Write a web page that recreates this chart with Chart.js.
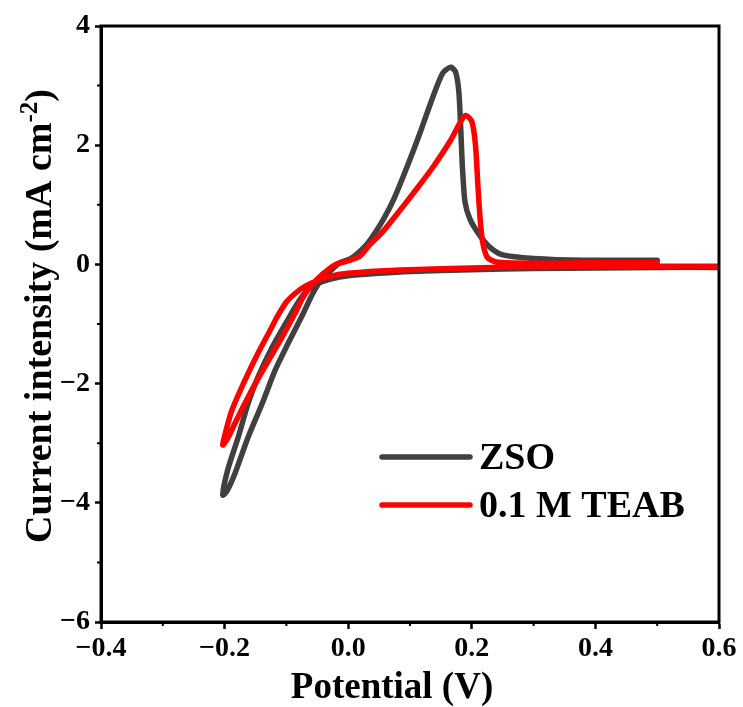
<!DOCTYPE html>
<html>
<head>
<meta charset="utf-8">
<script src="https://cdn.jsdelivr.net/npm/chart.js@4.4.0/dist/chart.umd.min.js"></script>
<style>
  body { margin: 0; background: #fff; }
</style>
</head>
<body>
<canvas id="chart" width="743" height="707"></canvas>
<script>
// CV loops, potential (V) vs current (mA cm-2)
const zsoPotential = [0.6, 0.5, 0.4, 0.3, 0.2, 0.1, 0.05, 0.0, -0.03, -0.05, -0.065, -0.08, -0.1, -0.123, -0.146, -0.162, -0.178, -0.195, -0.203,
  -0.196, -0.183, -0.162, -0.139, -0.118, -0.097, -0.075, -0.058, -0.045, -0.03, -0.013, 0.003, 0.016, 0.032, 0.056, 0.074, 0.095, 0.116, 0.137, 0.153, 0.166, 0.174, 0.179, 0.182, 0.185, 0.189, 0.197, 0.212, 0.229, 0.25, 0.3, 0.38, 0.5];
const zsoCurrent = [-0.05, -0.05, -0.06, -0.07, -0.09, -0.12, -0.15, -0.19, -0.25, -0.32, -0.42, -0.62, -0.97, -1.39, -1.89, -2.33, -2.9, -3.45, -3.87,
  -3.8, -3.5, -2.9, -2.33, -1.77, -1.32, -0.87, -0.5, -0.28, -0.12, 0.03, 0.09, 0.19, 0.36, 0.74, 1.1, 1.63, 2.2, 2.81, 3.21, 3.31, 3.22, 2.9, 2.3, 1.6, 1.05, 0.76, 0.5, 0.29, 0.16, 0.1, 0.07, 0.07];

const teabPotential = [0.6, 0.5, 0.4, 0.3, 0.2, 0.1, 0.05, 0.0, -0.03, -0.05, -0.07, -0.085, -0.1, -0.115, -0.125, -0.146, -0.167, -0.188, -0.198, -0.203,
  -0.195, -0.183, -0.156, -0.135, -0.107, -0.086, -0.073, -0.06, -0.041, -0.02, 0.003, 0.019, 0.035, 0.056, 0.084, 0.111, 0.137, 0.165, 0.181, 0.19, 0.2, 0.206, 0.21, 0.214, 0.218, 0.225, 0.24, 0.3, 0.4, 0.5];
const teabCurrent = [-0.03, -0.03, -0.03, -0.04, -0.06, -0.09, -0.11, -0.15, -0.2, -0.27, -0.37, -0.48, -0.63, -0.88, -1.08, -1.49, -1.94, -2.44, -2.8, -3.03,
  -2.92, -2.66, -2.11, -1.72, -1.22, -0.82, -0.55, -0.36, -0.16, 0.0, 0.07, 0.14, 0.33, 0.55, 0.91, 1.27, 1.63, 2.07, 2.38, 2.5, 2.4, 2.0, 1.3, 0.7, 0.35, 0.12, 0.04, 0.02, 0.03, 0.03];

const xMinor = [-0.3, -0.1, 0.1, 0.3, 0.5];
const yMinor = [3, 1, -1, -3, -5];

const toPoints = (xs, ys) => xs.map((x, i) => ({ x: x, y: ys[i] }));
const minus = (s) => s.replace('-', '\u2212');

Chart.defaults.font.family = "'Liberation Serif', 'Times New Roman', serif";
Chart.defaults.font.weight = 'bold';
Chart.defaults.color = '#000';

// box, minor ticks, axis titles and legend
const decor = {
  id: 'decor',
  afterDraw(chart) {
    const ctx = chart.ctx;
    const a = chart.chartArea;
    const xs = chart.scales.x, ys = chart.scales.y;
    ctx.save();
    ctx.strokeStyle = '#000';
    ctx.lineWidth = 3;
    ctx.strokeRect(a.left, a.top, a.right - a.left, a.bottom - a.top);

    ctx.lineWidth = 2;
    ctx.beginPath();
    xMinor.forEach(v => {
      const px = xs.getPixelForValue(v);
      ctx.moveTo(px, a.bottom); ctx.lineTo(px, a.bottom + 4);
    });
    yMinor.forEach(v => {
      const py = ys.getPixelForValue(v);
      ctx.moveTo(a.left, py); ctx.lineTo(a.left - 4, py);
    });
    ctx.stroke();

    // x title
    ctx.fillStyle = '#000';
    ctx.font = "bold 37px 'Liberation Serif'";
    ctx.textAlign = 'center';
    ctx.textBaseline = 'alphabetic';
    ctx.fillText('Potential (V)', 392, 698);

    // y title with superscript
    const big = "bold 38px 'Liberation Serif'";
    const small = "bold 25px 'Liberation Serif'";
    const p1 = 'Current intensity (mA cm', sup = '-2', p2 = ')';
    ctx.font = big; const w1 = ctx.measureText(p1).width, w3 = ctx.measureText(p2).width;
    ctx.font = small; const w2 = ctx.measureText(sup).width;
    const total = w1 + w2 + w3;
    ctx.translate(51, 316);
    ctx.rotate(-Math.PI / 2);
    ctx.textAlign = 'left';
    let cx = -total / 2;
    ctx.font = big; ctx.fillText(p1, cx, 0); cx += w1;
    ctx.font = small; ctx.fillText(sup, cx, -14); cx += w2;
    ctx.font = big; ctx.fillText(p2, cx, 0);
    ctx.setTransform(1, 0, 0, 1, 0, 0);

    // legend
    const rows = [chart.data.datasets[1], chart.data.datasets[0]];
    ctx.font = "bold 38px 'Liberation Serif'";
    ctx.textBaseline = 'middle';
    ctx.lineCap = 'round';
    rows.forEach((ds, i) => {
      const y = 457 + i * 48;
      ctx.strokeStyle = ds.borderColor;
      ctx.lineWidth = 5.5;
      ctx.beginPath(); ctx.moveTo(382, y); ctx.lineTo(470, y); ctx.stroke();
      ctx.fillText(ds.label, 479, y + 2);
    });
    ctx.restore();
  }
};

new Chart(document.getElementById('chart'), {
  type: 'scatter',
  data: {
    datasets: [
      {
        label: '0.1 M TEAB',
        data: toPoints(teabPotential, teabCurrent),
        borderColor: '#ff0000',
        order: 0
      },
      {
        label: 'ZSO',
        data: toPoints(zsoPotential, zsoCurrent),
        borderColor: '#404040',
        order: 1
      }
    ]
  },
  options: {
    responsive: false,
    animation: false,
    showLine: true,
    layout: { padding: { top: 26, right: 24, left: 0, bottom: 0 } },
    elements: {
      point: { radius: 0 },
      line: { borderWidth: 5.5, tension: 0.25, borderCapStyle: 'round', borderJoinStyle: 'round', fill: false }
    },
    plugins: { legend: { display: false }, tooltip: { enabled: false } },
    scales: {
      x: {
        type: 'linear', min: -0.4, max: 0.6,
        ticks: {
          stepSize: 0.2, padding: 3, maxRotation: 0,
          font: { size: 28, weight: 'bold' },
          callback: v => Math.abs(v) < 1e-9 ? '0.0' : minus(v.toFixed(1))
        },
        grid: { drawOnChartArea: false, tickLength: 7, tickWidth: 2.5, tickColor: '#000' },
        border: { color: '#000', width: 3 },
        afterFit: s => { s.height = 85; }
      },
      y: {
        type: 'linear', min: -6, max: 4,
        ticks: {
          stepSize: 2, padding: 5,
          font: { size: 28, weight: 'bold' },
          callback: v => minus(String(v))
        },
        grid: { drawOnChartArea: false, tickLength: 6, tickWidth: 2.5, tickColor: '#000' },
        border: { color: '#000', width: 3 },
        afterFit: s => { s.width = 101; }
      }
    }
  },
  plugins: [decor]
});
</script>
</body>
</html>
